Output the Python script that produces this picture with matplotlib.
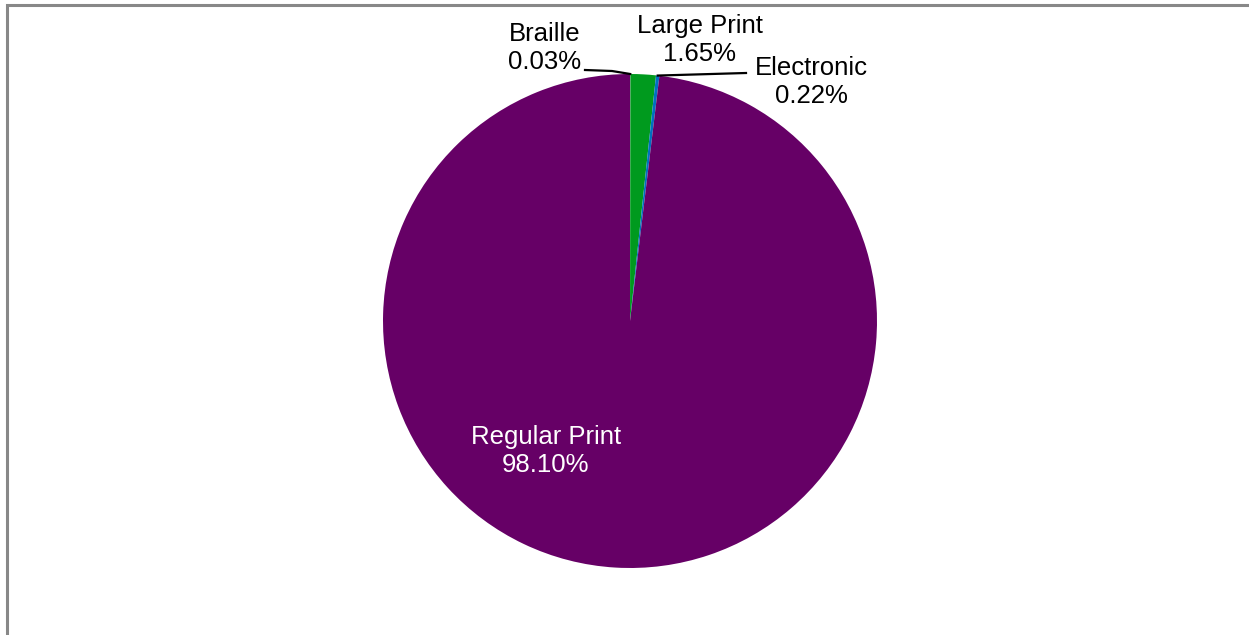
import numpy as np
import matplotlib.pyplot as plt
from matplotlib.patches import Rectangle

plt.rcParams['font.family'] = ['Liberation Sans', 'DejaVu Sans']

labels = ["Braille", "Large Print", "Electronic", "Regular Print"]
values = [0.03, 1.65, 0.22, 98.10]
colors = ["#7F7F7F", "#009A1E", "#0070C0", "#660066"]

H = 635
fig = plt.figure(figsize=(12.49, 6.35), dpi=100)
ax = fig.add_axes([0, 0, 1, 1])

cx, cy, r = 630, H - 321, 247
wedges, _ = ax.pie(values, colors=colors, startangle=90, counterclock=False,
                   center=(cx, cy), radius=r, frame=True,
                   wedgeprops=dict(linewidth=0))
ax.set_xlim(0, 1249)
ax.set_ylim(0, H)
ax.set_aspect("equal")
ax.axis("off")

# outer border of chart area
ax.add_patch(Rectangle((7.5, -100), 1300, H - 4.5 + 100, fill=False,
                       edgecolor="#888888", lw=2.2))

fs = 18.5
ls = 1.2
# label positions (text centre, pixels from top) and leader end points
txt_pos = {"Braille": (545, 48), "Large Print": (700, 40), "Electronic": (811, 82)}
line_mid = {"Braille": [(585, 70), (612, 71)], "Electronic": [(746, 73)]}

for w, lab, v in zip(wedges, labels, values):
    s = f"{lab}\n{v:.2f}%"
    if lab == "Regular Print":
        ax.text(546, H - 451, s, ha="center", va="center", fontsize=fs,
                color="white", linespacing=ls)
        continue
    tx, ty = txt_pos[lab]
    ax.text(tx, H - ty, s, ha="center", va="center", fontsize=fs, color="black",
            linespacing=ls)
    if lab in line_mid:
        ang = np.deg2rad((w.theta1 + w.theta2) / 2)
        px = cx + r * np.cos(ang)
        py = cy + r * np.sin(ang)
        pts = line_mid[lab] + [(px, H - py)]
        ax.plot([p[0] for p in pts], [H - p[1] for p in pts], color="black",
                lw=1.6)

fig.savefig("out.png", dpi=100, facecolor="white")
